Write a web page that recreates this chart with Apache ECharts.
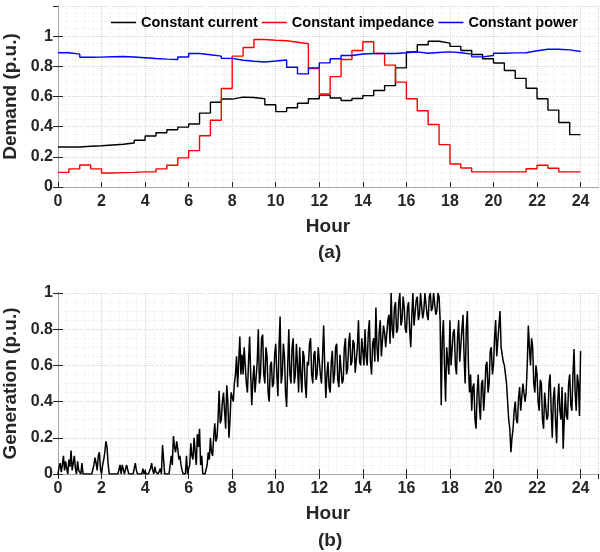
<!DOCTYPE html>
<html>
<head>
<meta charset="utf-8">
<script src="https://cdn.jsdelivr.net/npm/echarts@6/dist/echarts.min.js"></script>
<style>
  html, body { margin: 0; padding: 0; background: #fff; }
  #chart { width: 600px; height: 552px; }
</style>
</head>
<body>
<div id="chart"></div>
<script>
// ---------- data ----------
// half-hour step boundaries (h)
const halfHours = [0, 0.5, 1, 1.5, 2, 2.5, 3, 3.5, 4, 4.5, 5, 5.5, 6, 6.5, 7, 7.5, 8, 8.5, 9, 9.5,
  10, 10.5, 11, 11.5, 12, 12.5, 13, 13.5, 14, 14.5, 15, 15.5, 16, 16.5, 17, 17.5, 18, 18.5, 19, 19.5,
  20, 20.5, 21, 21.5, 22, 22.5, 23, 23.5, 24];

// demand (p.u.) per half hour
const constCurrent = [0.265, 0.265, 0.27, 0.273, 0.278, 0.283, 0.292, 0.31, 0.338, 0.36, 0.38, 0.397,
  0.418, 0.49, 0.562, 0.583, 0.596, 0.593, 0.585, 0.545, 0.5, 0.525, 0.555, 0.585,
  0.609, 0.59, 0.573, 0.587, 0.606, 0.64, 0.672, 0.79, 0.895, 0.943, 0.966, 0.954,
  0.932, 0.905, 0.878, 0.85, 0.822, 0.772, 0.72, 0.655, 0.585, 0.51, 0.428, 0.347];

const constImpedance = [0.097, 0.12, 0.146, 0.12, 0.093, 0.095, 0.097, 0.1, 0.1, 0.12, 0.144, 0.193,
  0.241, 0.34, 0.443, 0.653, 0.868, 0.925, 0.978, 0.973, 0.97, 0.96, 0.95, 0.785,
  0.617, 0.732, 0.845, 0.905, 0.963, 0.885, 0.808, 0.695, 0.585, 0.506, 0.414, 0.281,
  0.152, 0.126, 0.1, 0.1, 0.1, 0.1, 0.1, 0.121, 0.144, 0.124, 0.1, 0.1];

const constPower = [0.89, 0.881, 0.86, 0.861, 0.864, 0.865, 0.862, 0.857, 0.852, 0.848, 0.845, 0.862,
  0.885, 0.877, 0.868, 0.853, 0.84, 0.834, 0.829, 0.835, 0.842, 0.794, 0.75, 0.79,
  0.823, 0.85, 0.872, 0.882, 0.885, 0.886, 0.885, 0.89, 0.896, 0.887, 0.892, 0.896,
  0.89, 0.881, 0.863, 0.872, 0.887, 0.889, 0.89, 0.903, 0.913, 0.913, 0.909, 0.898];

// generation (p.u.), one value every 0.05 h from 0 to 24 (one row per hour)
const generation = [
  0.0, 0.04, 0.06, 0.01, 0.05, 0.1, 0.02, 0.07, 0.03, 0.0, 0.08, 0.04, 0.13, 0.02, 0.06, 0.1, 0.03, 0.0, 0.07, 0.02,
  0.03, 0.0, 0.06, 0.0, 0.0, 0.0, 0.0, 0.0, 0.0, 0.0, 0.0, 0.0, 0.0, 0.05, 0.09, 0.06, 0.02, 0.1, 0.12, 0.03,
  0.0, 0.05, 0.08, 0.12, 0.18, 0.15, 0.06, 0.0, 0.0, 0.0, 0.0, 0.0, 0.0, 0.0, 0.0, 0.0, 0.0, 0.05, 0.0, 0.05,
  0.05, 0.0, 0.0, 0.05, 0.06, 0.0, 0.0, 0.0, 0.0, 0.0, 0.0, 0.06, 0.02, 0.0, 0.0, 0.0, 0.0, 0.0, 0.03, 0.0,
  0.02, 0.0, 0.0, 0.0, 0.0, 0.03, 0.06, 0.02, 0.0, 0.04, 0.01, 0.02, 0.0, 0.0, 0.03, 0.0, 0.16, 0.08, 0.0, 0.0,
  0.0, 0.0, 0.0, 0.0, 0.1, 0.05, 0.21, 0.15, 0.12, 0.18, 0.14, 0.08, 0.1, 0.05, 0.02, 0.0, 0.0, 0.0, 0.1, 0.0,
  0.03, 0.05, 0.17, 0.1, 0.08, 0.2, 0.12, 0.05, 0.22, 0.15, 0.25, 0.05, 0.1, 0.0, 0.0, 0.0, 0.0, 0.05, 0.12, 0.08,
  0.2, 0.12, 0.1, 0.2, 0.28, 0.18, 0.2, 0.3, 0.46, 0.28, 0.3, 0.4, 0.45, 0.35, 0.25, 0.49, 0.4, 0.2, 0.3, 0.45,
  0.45, 0.4, 0.5, 0.55, 0.65, 0.48, 0.48, 0.76, 0.55, 0.66, 0.55, 0.7, 0.7, 0.5, 0.45, 0.62, 0.76, 0.55, 0.38, 0.52,
  0.6, 0.45, 0.45, 0.62, 0.8, 0.5, 0.55, 0.75, 0.77, 0.55, 0.5, 0.7, 0.65, 0.45, 0.4, 0.6, 0.62, 0.48, 0.5, 0.66,
  0.72, 0.55, 0.43, 0.7, 0.87, 0.5, 0.55, 0.72, 0.65, 0.45, 0.37, 0.6, 0.8, 0.55, 0.5, 0.7, 0.75, 0.5, 0.55, 0.72,
  0.6, 0.45, 0.7, 0.55, 0.45, 0.68, 0.65, 0.5, 0.42, 0.62, 0.6, 0.72, 0.75, 0.55, 0.5, 0.66, 0.68, 0.52, 0.55, 0.7,
  0.7, 0.55, 0.5, 0.65, 0.82, 0.6, 0.42, 0.55, 0.62, 0.48, 0.45, 0.62, 0.68, 0.5, 0.55, 0.7, 0.72, 0.52, 0.48, 0.66,
  0.66, 0.5, 0.52, 0.7, 0.75, 0.55, 0.58, 0.72, 0.78, 0.6, 0.62, 0.74, 0.72, 0.56, 0.55, 0.7, 0.85, 0.62, 0.6, 0.75,
  0.68, 0.6, 0.8, 0.65, 0.6, 0.78, 0.85, 0.62, 0.55, 0.72, 0.75, 0.62, 0.92, 0.7, 0.62, 0.78, 0.85, 0.65, 0.66, 0.82,
  0.78, 0.7, 0.7, 0.85, 0.88, 0.72, 1.0, 0.8, 0.75, 0.92, 0.95, 0.78, 0.8, 0.95, 1.0, 0.82, 0.85, 0.98, 0.92, 0.8,
  0.78, 0.92, 0.95, 0.8, 0.7, 0.88, 1.0, 0.82, 0.82, 0.96, 0.98, 0.85, 0.88, 1.0, 1.0, 0.86, 0.9, 1.0, 1.0, 0.88,
  0.85, 0.98, 1.0, 0.9, 0.92, 1.0, 1.0, 0.88, 0.9, 1.0, 0.98, 0.85, 0.38, 0.75, 0.85, 0.6, 0.4, 0.7, 0.7, 0.55,
  0.85, 0.6, 0.6, 0.78, 0.8, 0.6, 0.55, 0.75, 0.85, 0.62, 0.62, 0.8, 0.88, 0.65, 0.5, 0.8, 0.9, 0.6, 0.45, 0.55,
  0.35, 0.48, 0.5, 0.3, 0.25, 0.45, 0.55, 0.38, 0.3, 0.5, 0.52, 0.35, 0.45, 0.6, 0.62, 0.45, 0.5, 0.68, 0.7, 0.55,
  0.6, 0.75, 0.85, 0.65, 0.65, 0.82, 0.9, 0.7, 0.7, 0.62, 0.6, 0.55, 0.5, 0.4, 0.3, 0.25, 0.12, 0.2, 0.25, 0.35,
  0.4, 0.3, 0.28, 0.42, 0.48, 0.35, 0.35, 0.5, 0.5, 0.4, 0.45, 0.6, 0.82, 0.7, 0.6, 0.75, 0.7, 0.5, 0.45, 0.6,
  0.55, 0.4, 0.35, 0.52, 0.5, 0.3, 0.25, 0.45, 0.45, 0.3, 0.32, 0.5, 0.55, 0.35, 0.2, 0.42, 0.48, 0.3, 0.17, 0.4,
  0.5, 0.35, 0.3, 0.48, 0.14, 0.3, 0.45, 0.32, 0.3, 0.5, 0.55, 0.38, 0.35, 0.55, 0.69, 0.45, 0.35, 0.55, 0.5, 0.32,
  0.68
];
const genStep = 0.05; // hours between generation samples

// ---------- helpers ----------
const FONT = "'Liberation Sans', Arial, sans-serif";
const TXT = '#262626';

// step series: last value held until 24 h
function stepPairs(vals) {
  return halfHours.map((h, i) => [h, vals[Math.min(i, vals.length - 1)]]);
}

function mainX(grid, gap) {
  return {
    type: 'value', gridIndex: grid, min: 0, max: 24.8, interval: 2, position: 'bottom',
    name: 'Hour', nameLocation: 'middle', nameGap: gap,
    nameTextStyle: { fontFamily: FONT, fontSize: 19, fontWeight: 'bold', color: TXT },
    axisLine: { lineStyle: { color: TXT, width: 1 } },
    axisTick: { inside: true, length: 5, lineStyle: { color: TXT } },
    axisLabel: { showMaxLabel: false, margin: 7, fontFamily: FONT, fontSize: 16, fontWeight: 'bold', color: TXT },
    splitLine: { show: true, lineStyle: { type: 'dotted', color: '#d4d4d4' } },
    minorTick: { show: false, splitNumber: 5 },
    minorSplitLine: { show: true, lineStyle: { type: 'dotted', color: '#ececec' } }
  };
}

function boxX(grid, ticks) {
  return {
    type: 'value', gridIndex: grid, min: 0, max: 24.8, interval: 2, position: 'top',
    axisLine: { lineStyle: { color: '#a6a6a6' } },
    axisTick: { show: ticks, inside: true, length: 5, lineStyle: { color: TXT } },
    axisLabel: { show: false }, splitLine: { show: false }
  };
}

function mainY(grid, max, name) {
  return {
    type: 'value', gridIndex: grid, min: 0, max: max, interval: 0.2,
    name: name, nameLocation: 'middle', nameGap: 33,
    nameTextStyle: { fontFamily: FONT, fontSize: 19, fontWeight: 'bold', color: TXT },
    axisLine: { show: true, lineStyle: { color: TXT, width: 1 } },
    axisTick: { show: true, inside: true, length: 5, lineStyle: { color: TXT } },
    axisLabel: { showMaxLabel: max <= 1, margin: 5, fontFamily: FONT, fontSize: 16, fontWeight: 'bold', color: TXT },
    splitLine: { show: true, lineStyle: { type: 'dotted', color: '#d4d4d4' } },
    minorTick: { show: false, splitNumber: 4 },
    minorSplitLine: { show: true, lineStyle: { type: 'dotted', color: '#ececec' } }
  };
}

function boxY(grid, max) {
  return {
    type: 'value', gridIndex: grid, min: 0, max: max, interval: 0.2, position: 'right',
    axisLine: { show: true, lineStyle: { color: '#a6a6a6' } },
    axisTick: { show: true, inside: true, length: 5, lineStyle: { color: TXT } },
    axisLabel: { show: false }, splitLine: { show: false }
  };
}

// ---------- chart ----------
const chart = echarts.init(document.getElementById('chart'));

chart.setOption({
  animation: false,
  backgroundColor: '#fff',
  grid: [
    { left: 58, right: 2, top: 6, height: 181, outerBoundsMode: 'none' },
    { left: 58, right: 2, top: 293, height: 181, outerBoundsMode: 'none' }
  ],
  legend: {
    left: 106, top: 10, itemWidth: 25, itemHeight: 1.5, itemGap: 4, icon: 'rect',
    textStyle: { fontFamily: FONT, fontSize: 14.5, fontWeight: 'bold', color: '#000' },
    data: ['Constant current', 'Constant impedance', 'Constant power']
  },
  xAxis: [mainX(0, 30), boxX(0, false), mainX(1, 30), boxX(1, true)],
  yAxis: [mainY(0, 1.2, 'Demand (p.u.)'), boxY(0, 1.2), mainY(1, 1, 'Generation (p.u.)'), boxY(1, 1)],
  graphic: [
    { type: 'text', left: 318, top: 243, style: { text: '(a)', font: "bold 19px " + FONT, fill: TXT } },
    { type: 'text', left: 318, top: 531, style: { text: '(b)', font: "bold 19px " + FONT, fill: TXT } }
  ],
  series: [
    {
      name: 'Constant current', type: 'line', step: 'end', xAxisIndex: 0, yAxisIndex: 0,
      symbol: 'none', color: '#000000', lineStyle: { width: 1.4 }, data: stepPairs(constCurrent)
    },
    {
      name: 'Constant impedance', type: 'line', step: 'end', xAxisIndex: 0, yAxisIndex: 0,
      symbol: 'none', color: '#ff0000', lineStyle: { width: 1.4 }, data: stepPairs(constImpedance)
    },
    {
      name: 'Constant power', type: 'line', step: 'end', xAxisIndex: 0, yAxisIndex: 0,
      symbol: 'none', color: '#0000ff', lineStyle: { width: 1.4 }, data: stepPairs(constPower)
    },
    {
      name: 'Generation', type: 'line', xAxisIndex: 2, yAxisIndex: 2,
      symbol: 'none', color: '#000000', lineStyle: { width: 1.5 },
      data: generation.map((v, i) => [i * genStep, v])
    }
  ]
});
</script>
</body>
</html>
